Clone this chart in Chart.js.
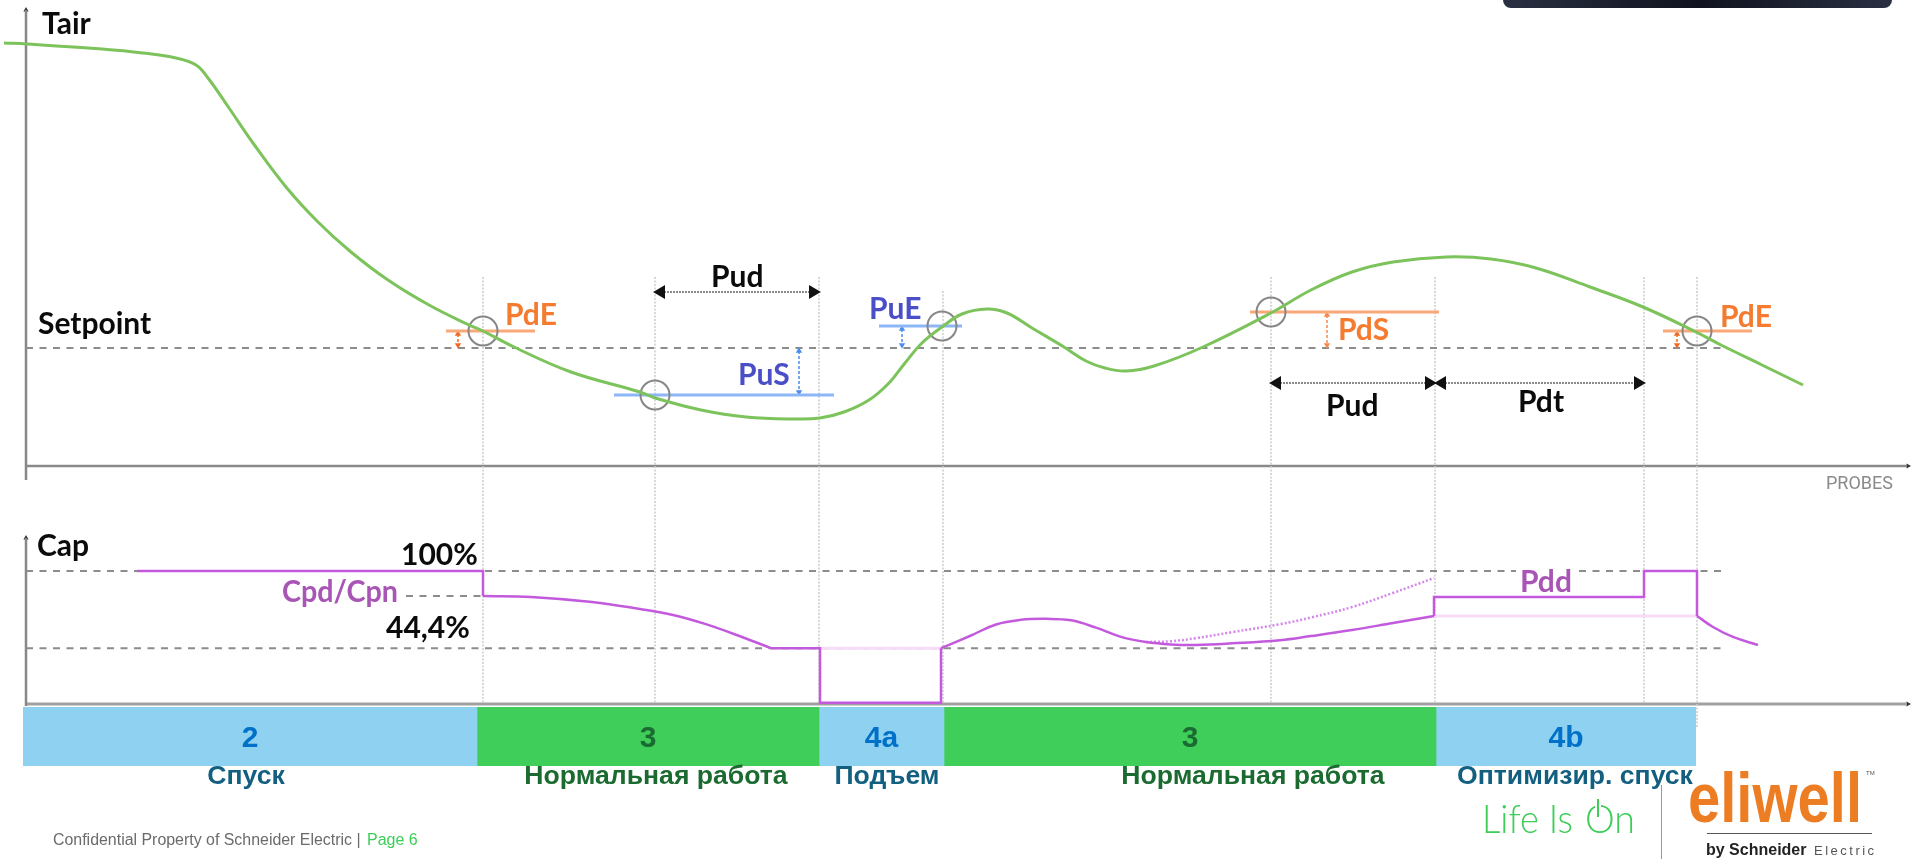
<!DOCTYPE html>
<html>
<head>
<meta charset="utf-8">
<title>Tair / Cap</title>
<script src="https://cdn.jsdelivr.net/npm/chart.js@4"></script>
<style>
    body { margin: 0; background: #ffffff; overflow: hidden; }
    #wrap { position: relative; width: 1913px; height: 859px; }
    canvas { position: absolute; }
    #phaseChart { left: 23px; top: 707px; }
    #mainChart { left: 0; top: 0; }
</style>
</head>
<body>
<div id="wrap">
    <canvas id="phaseChart" width="1673" height="59"></canvas>
    <canvas id="mainChart" width="1913" height="859"></canvas>
</div>
<script>
// air temperature, relative to the setpoint
const tairTime = [-22, 1, 76, 117, 150, 170, 182, 203, 227, 260, 292, 325, 362, 403, 443, 457, 488, 545, 614, 629, 675, 720, 769, 794, 818, 843, 863, 879, 896, 916, 936, 961, 981, 1006, 1038, 1060, 1079, 1100, 1128, 1177, 1245, 1285, 1326, 1367, 1420, 1465, 1510, 1564, 1617, 1670, 1695, 1736, 1777];
const tairValue = [30.5, 30.4, 29.9, 29.5, 29.0, 28.3, 27.0, 24.0, 20.5, 16.1, 12.6, 9.6, 6.8, 4.3, 2.3, 1.7, 0.1, -2.4, -4.4, -5.0, -6.2, -6.9, -7.1, -7.0, -6.4, -5.2, -3.5, -1.5, 0.5, 2.1, 3.4, 3.9, 3.5, 2.0, 0.1, -1.3, -2.0, -2.3, -1.8, 0.1, 3.5, 5.8, 7.6, 8.6, 9.1, 8.9, 8.0, 6.1, 4.1, 1.6, 0.3, -1.7, -3.7];

// capacity in percent, the smooth stretches
const capFallTime = [457, 505, 566, 614, 647, 679, 716, 745];
const capFallValue = [81.2, 80.5, 76.7, 71.4, 66.9, 60.2, 50.4, 42];
const capHumpTime = [915, 920, 945, 970, 995, 1020, 1045, 1070, 1095, 1120, 1145, 1170, 1206, 1254, 1285, 1326, 1367, 1408];
const capHumpValue = [42, 43.5, 51.5, 59.8, 63.3, 64, 62.9, 57.4, 50.5, 46.6, 44.8, 44.4, 45.6, 48, 51.1, 55.6, 60.9, 66.2];
const capTailTime = [1671, 1687, 1707, 1732];
const capTailValue = [66.2, 57.9, 50.4, 44.4];
const capDottedTime = [1120, 1145, 1170, 1206, 1254, 1285, 1326, 1367, 1408];
const capDottedValue = [46.6, 47.2, 49.5, 54, 60, 65, 72.9, 83.5, 94.7];

// capacity in percent, the straight steps
const capStepATime = [111, 457, 457];
const capStepAValue = [100, 100, 81.2];
const capStepBTime = [745, 794, 794, 915, 915];
const capStepBValue = [42, 42, 1, 1, 42];
const capStepCTime = [1408, 1408, 1618, 1618, 1671, 1671];
const capStepCValue = [66.2, 80.5, 80.5, 100, 100, 66.2];

// thresholds
const pdeLeftTime = [420, 509], pdeLeftValue = 1.7;
const pusTime = [588, 808], pusValue = -4.7;
const pueTime = [853, 936], pueValue = 2.2;
const pdsTime = [1224, 1413], pdsValue = 3.6;
const pdeRightTime = [1637, 1726], pdeRightValue = 1.7;
const circleTime = [457, 629, 916, 1245, 1671];
const circleValue = [1.7, -4.7, 2.2, 3.6, 1.7];
const guideTime = [457, 629, 793, 917, 1245, 1409, 1618, 1671];
const capLevels = [100, 42];

// phases along the bottom
const phaseNumbers = ['2', '3', '4a', '3', '4b'];
const phaseNames = ['Спуск', 'Нормальная работа', 'Подъем', 'Нормальная работа', 'Оптимизир. спуск'];
const phaseDuration = [454, 342, 125, 492, 260];

const grey = '#8c8c8c';
const magenta = '#c35ade';
const orangeLine = '#f9a877';
const blueLine = '#8db6f6';
const boldFont = 'bold 30px Lato';
const armFont = 'bold 26.6px "Liberation Sans"';

function zip(xs, ys){
    return xs.map((x, i) => ({x: x, y: ys[i]}));
}

function flat(xs, value){
    return xs.map(x => ({x: x, y: value}));
}

function line(points, axis, color, width, extra){
    return Object.assign({
        data: points,
        yAxisID: axis,
        showLine: true,
        borderColor: color,
        backgroundColor: color,
        borderWidth: width,
        pointRadius: 0,
        tension: 0,
        clip: false
    }, extra);
}

function smooth(points, axis, color, width, extra){
    return line(points, axis, color, width, Object.assign({tension: 0.4}, extra));
}

// small dashed double arrow between the setpoint and a threshold
function smallArrow(time, from, to, color){
    return line([{x: time, y: from - 0.3}, {x: time, y: to + 0.3}], 'tair', color, 1.5, {
        borderDash: [3, 2], pointStyle: 'triangle', pointRadius: 2.2,
        pointRotation: [0, 180]
    });
}

// black arrows of the Pud and Pdt spans
function spanArrow(start, end, value){
    return line(flat([start, end], value), 'tair', '#8a8a8a', 2, {
        borderDash: [2, 1], pointStyle: 'triangle', pointRadius: 6,
        pointBackgroundColor: '#111111', pointBorderColor: '#111111', pointRotation: [-90, 90]
    });
}

function axisTip(time, value, axis, rotation){
    return line([{x: time, y: value}], axis, '#333333', 0, {
        showLine: false, pointStyle: 'triangle', pointRadius: 3, pointRotation: rotation
    });
}

function guidePoints(){
    let points = [];
    for(let i = 0; i < guideTime.length; i++){
        let top = guideTime[i] == 917 ? 5.7 : 7.1;
        let bottom = guideTime[i] == 1671 ? -38 : -35.6;
        points.push({x: guideTime[i], y: top}, {x: guideTime[i], y: bottom}, {x: guideTime[i], y: NaN});
    }
    return points;
}

function buildDatasets(){
    return [
        smooth(zip(tairTime, tairValue), 'tair', '#7cc35c', 3),
        smooth(zip(capFallTime, capFallValue), 'cap', magenta, 2.5),
        smooth(zip(capHumpTime, capHumpValue), 'cap', magenta, 2.5),
        smooth(zip(capTailTime, capTailValue), 'cap', magenta, 2.5),
        smooth(zip(capDottedTime, capDottedValue), 'cap', '#d488ea', 2.5, {borderDash: [2, 2]}),
        line(zip(capStepATime, capStepAValue), 'cap', magenta, 2.5),
        line(zip(capStepBTime, capStepBValue), 'cap', magenta, 2.5),
        line(zip(capStepCTime, capStepCValue), 'cap', magenta, 2.5),
        line(flat([794, 915], 42), 'cap', '#f6dcf9', 3),
        line(flat([1408, 1671], 66.2), 'cap', '#f6dcf9', 3),

        line(zip(circleTime, circleValue), 'tair', grey, 0, {
            showLine: false, pointStyle: 'circle', pointRadius: 14.5, pointBorderWidth: 2,
            pointBorderColor: '#868686', pointBackgroundColor: 'rgba(0,0,0,0)'
        }),

        line(flat(pdeLeftTime, pdeLeftValue), 'tair', orangeLine, 3),
        line(flat(pusTime, pusValue), 'tair', blueLine, 3),
        line(flat(pueTime, pueValue), 'tair', blueLine, 3),
        line(flat(pdsTime, pdsValue), 'tair', orangeLine, 3),
        line(flat(pdeRightTime, pdeRightValue), 'tair', orangeLine, 3),
        smallArrow(432, pdeLeftValue, 0, '#f26a21'),
        smallArrow(773, 0, pusValue, '#4b8df0'),
        smallArrow(876, pueValue, 0, '#4b8df0'),
        smallArrow(1301, pdsValue, 0, '#f58a4c'),
        smallArrow(1651, pdeRightValue, 0, '#f26a21'),

        spanArrow(635, 787, 5.6),
        spanArrow(1251, 1403, -3.5),
        spanArrow(1416, 1612, -3.5),

        line(flat([0, 1697], 0), 'tair', grey, 2, {borderDash: [7, 6.5]}),
        line(flat([0, 1490], capLevels[0]), 'cap', grey, 2, {borderDash: [7, 6.5]}),
        line(flat([1553, 1697], capLevels[0]), 'cap', grey, 2, {borderDash: [7, 6.5]}),
        line(flat([0, 1697], capLevels[1]), 'cap', grey, 2, {borderDash: [7, 6.5]}),
        line(flat([380, 457], 81.2), 'cap', grey, 2, {borderDash: [7, 6.5]}),

        line(guidePoints(), 'tair', '#cbcbcb', 1.5, {borderDash: [2, 1.5], spanGaps: false}),

        line([{x: 0, y: 33.8}, {x: 0, y: -13.2}], 'tair', '#888888', 2.5),
        line(flat([-1, 1881], -11.8), 'tair', '#8a8a8a', 2.5),
        line([{x: 0, y: 124.8}, {x: 0, y: -1.5}], 'cap', '#888888', 2.5),
        line(flat([-1, 1881], 0), 'cap', '#a0a0a0', 3),
        axisTip(0, 33.8, 'tair', 0),
        axisTip(1882, -11.8, 'tair', 90),
        axisTip(0, 124.8, 'cap', 0),
        axisTip(1882, 0, 'cap', 90)
    ];
}

const notes = [
    {text: 'Tair', x: 42, y: 34, font: boldFont, color: '#0b0b0b'},
    {text: 'Setpoint', x: 38, y: 334, font: boldFont, color: '#0b0b0b'},
    {text: 'PdE', x: 505, y: 325, font: boldFont, color: '#f47b30'},
    {text: 'Pud', x: 711, y: 287, font: boldFont, color: '#0b0b0b'},
    {text: 'PuS', x: 738, y: 385, font: boldFont, color: '#4a4fc8'},
    {text: 'PuE', x: 869, y: 319, font: boldFont, color: '#4a4fc8'},
    {text: 'PdS', x: 1338, y: 340, font: boldFont, color: '#f47b30'},
    {text: 'PdE', x: 1720, y: 327, font: boldFont, color: '#f47b30'},
    {text: 'Pud', x: 1326, y: 416, font: boldFont, color: '#0b0b0b'},
    {text: 'Pdt', x: 1518, y: 412, font: boldFont, color: '#0b0b0b'},
    {text: 'PROBES', x: 1826, y: 489, font: '18px Roboto', color: '#8a8a8a'},
    {text: 'Cap', x: 37, y: 556, font: boldFont, color: '#0b0b0b'},
    {text: '100%', x: 401, y: 565, font: boldFont, color: '#0b0b0b'},
    {text: 'Cpd/Cpn', x: 282, y: 602, font: boldFont, color: '#a855b5', width: 116},
    {text: '44,4%', x: 386, y: 638, font: boldFont, color: '#0b0b0b'},
    {text: 'Pdd', x: 1520, y: 592, font: boldFont, color: '#a855b5'},
    {text: phaseNames[0], x: 246, y: 784, font: armFont, color: '#135f80', align: 'center'},
    {text: phaseNames[1], x: 656, y: 784, font: armFont, color: '#1b6b30', align: 'center'},
    {text: phaseNames[2], x: 887, y: 784, font: armFont, color: '#135f80', align: 'center'},
    {text: phaseNames[3], x: 1253, y: 784, font: armFont, color: '#1b6b30', align: 'center'},
    {text: phaseNames[4], x: 1575, y: 784, font: armFont, color: '#135f80', align: 'center'},
    {text: 'Confidential Property of Schneider Electric | ', x: 53, y: 845, font: '16px "Liberation Sans"', color: '#6b6b6b', width: 312},
    {text: 'Page 6', x: 367, y: 845, font: '16px "Liberation Sans"', color: '#3dcd58'},
    {text: 'Life Is', x: 1482, y: 833, font: '300 40px Lato', color: '#3dcd58', width: 91},
    {text: 'On', x: 1585, y: 833, font: '300 40px Lato', color: '#3dcd58', width: 50},
    {text: 'eliwell', x: 1688, y: 822, font: 'bold 71px "Liberation Sans"', color: '#ec7d23', width: 174},
    {text: 'TM', x: 1866, y: 775, font: '6px "Liberation Sans"', color: '#555555'},
    {text: 'by Schneider', x: 1706, y: 855, font: 'bold 16px "Liberation Sans"', color: '#222222'},
    {text: 'Electric', x: 1814, y: 855, font: '13px "Liberation Sans"', color: '#555555', spacing: '2.5px'}
];

const notesPlugin = {
    id: 'notes',
    afterDraw(chart){
        const ctx = chart.ctx;
        ctx.save();

        // edge of the dark screen at the top right
        let shade = ctx.createLinearGradient(1503, 0, 1892, 0);
        shade.addColorStop(0, '#2a3042');
        shade.addColorStop(0.5, '#10131f');
        shade.addColorStop(1, '#2a3042');
        ctx.fillStyle = shade;
        ctx.beginPath();
        ctx.roundRect(1503, -12, 389, 20, 8);
        ctx.fill();

        // rules of the logo block
        ctx.strokeStyle = '#999999';
        ctx.lineWidth = 1;
        ctx.beginPath();
        ctx.moveTo(1661.5, 785);
        ctx.lineTo(1661.5, 859);
        ctx.stroke();
        ctx.strokeStyle = '#555555';
        ctx.beginPath();
        ctx.moveTo(1707, 833.5);
        ctx.lineTo(1872, 833.5);
        ctx.stroke();

        for(let i = 0; i < notes.length; i++){
            let note = notes[i];
            ctx.font = note.font;
            ctx.fillStyle = note.color;
            ctx.textAlign = note.align || 'left';
            ctx.textBaseline = 'alphabetic';
            ctx.letterSpacing = note.spacing || '0px';
            if(note.width){
                ctx.fillText(note.text, note.x, note.y, note.width);
            } else {
                ctx.fillText(note.text, note.x, note.y);
            }
        }

        // power sign in the O of the slogan
        ctx.strokeStyle = '#ffffff';
        ctx.lineWidth = 6;
        ctx.beginPath();
        ctx.moveTo(1598, 802);
        ctx.lineTo(1598, 810);
        ctx.stroke();
        ctx.strokeStyle = '#3dcd58';
        ctx.lineWidth = 2;
        ctx.beginPath();
        ctx.moveTo(1598, 799);
        ctx.lineTo(1598, 817);
        ctx.stroke();

        ctx.restore();
    }
};

new Chart(document.getElementById('mainChart'), {
    type: 'scatter',
    data: {datasets: buildDatasets()},
    options: {
        responsive: false,
        animation: false,
        layout: {padding: 0, autoPadding: false},
        plugins: {legend: {display: false}, tooltip: {enabled: false}},
        scales: {
            x: {type: 'linear', display: false, min: -26, max: 1887},
            tair: {type: 'linear', display: false, min: -51.1, max: 34.8},
            cap: {type: 'linear', display: false, min: -116.54, max: 529.3}
        }
    },
    plugins: [notesPlugin]
});

const phaseLabelsPlugin = {
    id: 'phaseLabels',
    afterDraw(chart){
        const ctx = chart.ctx;
        ctx.save();
        ctx.font = 'bold 30px "Liberation Sans"';
        ctx.textAlign = 'center';
        ctx.textBaseline = 'alphabetic';
        chart.data.datasets.forEach((set, i) => {
            let bar = chart.getDatasetMeta(i).data[0];
            ctx.fillStyle = i % 2 == 0 ? '#0070c8' : '#1a6b32';
            ctx.fillText(phaseNumbers[i], (bar.base + bar.x) / 2, 40);
        });
        ctx.restore();
    }
};

new Chart(document.getElementById('phaseChart'), {
    type: 'bar',
    data: {
        labels: ['phase'],
        datasets: phaseDuration.map((d, i) => ({
            data: [d],
            backgroundColor: i % 2 == 0 ? '#8fd1f0' : '#3fce5a',
            barPercentage: 1,
            categoryPercentage: 1
        }))
    },
    options: {
        indexAxis: 'y',
        responsive: false,
        animation: false,
        layout: {padding: 0, autoPadding: false},
        plugins: {legend: {display: false}, tooltip: {enabled: false}},
        scales: {
            x: {stacked: true, display: false, min: 0, max: 1673},
            y: {stacked: true, display: false}
        }
    },
    plugins: [phaseLabelsPlugin]
});
</script>
</body>
</html>
